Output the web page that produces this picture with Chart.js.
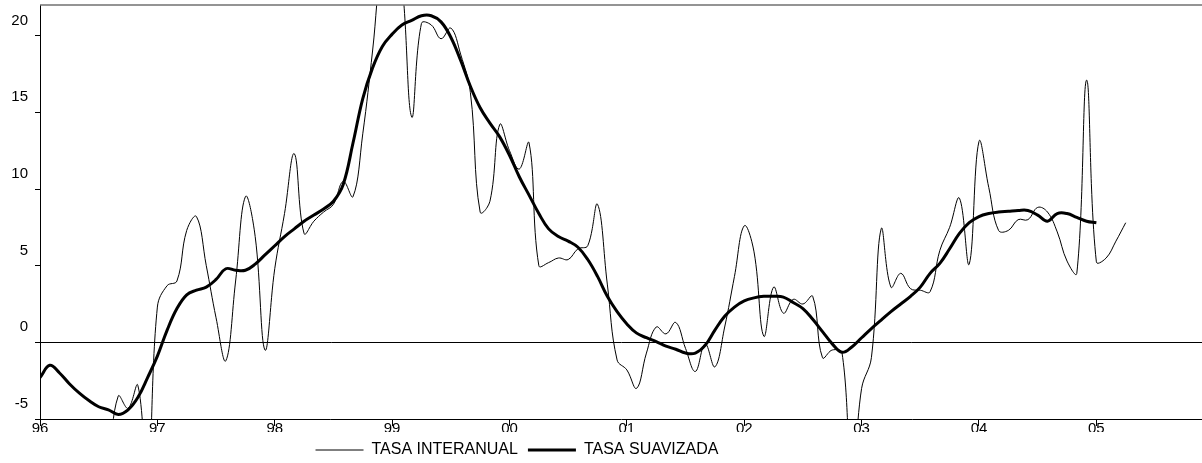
<!DOCTYPE html>
<html>
<head>
<meta charset="utf-8">
<script src="https://cdn.jsdelivr.net/npm/chart.js@4/dist/chart.umd.min.js"></script>
<style>
  html, body { margin: 0; padding: 0; background: #fff; overflow: hidden; }
  #contenedor { width: 1202px; height: 468px; }
</style>
</head>
<body>
<div id="contenedor"><canvas id="grafico"></canvas></div>
<script>
// Eje X en meses contados desde enero de 1996 (mes 0)
const etiquetasAnio = ['96', '97', '98', '99', '00', '01', '02', '03', '04', '05'];
const mesesAnio = [0, 12, 24, 36, 48, 60, 72, 84, 96, 108];
const ticksY = [-5, 0, 5, 10, 15, 20];

// Tasa interanual, empieza en agosto de 1996 (mes 7)
const inicioInteranual = 7;
const tasaInteranual = [
  -8.0, -3.5, -4.3, -2.8, -9.0,
  2.3, 3.7, 4.0, 7.3, 8.2, 5.0, 1.6, -1.2, 4.0, 9.5, 6.9, -0.5,
  4.8, 8.4, 12.3, 7.1, 7.9, 8.5, 9.0, 10.5, 9.5, 13.6, 19.0, 25.0,
  26.5, 23.5, 14.7, 20.8, 20.7, 19.8, 20.5, 18.8, 16.3, 8.5, 9.2, 14.2,
  12.5, 11.3, 13.0, 5.0, 5.2, 5.5, 5.4, 6.1, 6.3, 9.0, 3.8, -1.15,
  -1.8, -3.0, -0.7, 1.0, 0.55, 1.3, -0.4, -1.9, -0.1, -1.6, 1.0, 4.3,
  7.6, 5.9, 0.4, 3.6, 1.9, 2.8, 2.5, 3.0, -1.0, -0.5, -0.7, -9.0,
  -3.0, -1.0, 7.4, 3.6, 4.5, 3.5, 3.4, 3.3, 6.0, 7.5, 9.4, 5.1,
  13.1, 10.1, 7.3, 7.3, 8.0, 8.0, 8.8, 8.5, 7.2, 5.3, 4.5, 17.1,
  5.25, 5.5, 6.6, 7.8
];

// Tasa suavizada, desde enero de 1996
const inicioSuavizada = 0;
const tasaSuavizada = [
  -2.3, -1.5, -2.0, -2.7, -3.3, -3.8, -4.2, -4.4, -4.7, -4.4, -3.6, -2.3,
  -0.9, 0.8, 2.2, 3.1, 3.4, 3.6, 4.1, 4.8, 4.7, 4.7, 5.1, 5.7,
  6.3, 6.9, 7.4, 7.9, 8.3, 8.7, 9.2, 10.3, 13.0, 15.9, 17.9, 19.3,
  20.1, 20.7, 21.0, 21.3, 21.3, 20.9, 19.9, 18.4, 16.7, 15.3, 14.3, 13.4,
  12.2, 10.8, 9.6, 8.4, 7.4, 6.9, 6.6, 6.2, 5.4, 4.3, 3.0, 2.0,
  1.2, 0.6, 0.3, 0.05, -0.25, -0.45, -0.7, -0.7, -0.2, 0.8, 1.7, 2.3,
  2.7, 2.9, 3.0, 3.0, 2.95, 2.6, 2.2, 1.5, 0.7, -0.1, -0.65, -0.3,
  0.3, 0.9, 1.45, 2.0, 2.5, 3.0, 3.6, 4.5, 5.15, 6.1, 7.1, 7.8,
  8.2, 8.4, 8.5, 8.55, 8.6, 8.6, 8.3, 7.9, 8.4, 8.4, 8.15, 7.9,
  7.8
];

const aPuntos = (serie, inicio) => serie.map((v, i) => ({ x: inicio + i, y: v }));

const fuente = { family: '"Liberation Sans", Arial, sans-serif', size: 15 };
const desplazLeyenda = -84;

// Línea gris del borde superior y leyenda corrida a la izquierda
const bordeSuperior = {
  id: 'bordeSuperior',
  afterLayout(chart) {
    const lg = chart.legend;
    lg.left += desplazLeyenda;
    lg.right += desplazLeyenda;
  },
  afterDraw(chart) {
    const { ctx, chartArea: a } = chart;
    ctx.save();
    ctx.strokeStyle = '#707070';
    ctx.lineWidth = 1.5;
    ctx.beginPath();
    ctx.moveTo(a.left, a.top);
    ctx.lineTo(a.right, a.top);
    ctx.stroke();
    ctx.restore();
  }
};

new Chart(document.getElementById('grafico'), {
  type: 'line',
  data: {
    datasets: [
      {
        label: 'TASA INTERANUAL',
        data: aPuntos(tasaInteranual, inicioInteranual),
        borderColor: '#000',
        borderWidth: 1,
        tension: 0.4,
        pointRadius: 0
      },
      {
        label: 'TASA SUAVIZADA',
        data: aPuntos(tasaSuavizada, inicioSuavizada),
        borderColor: '#000',
        borderWidth: 3,
        tension: 0.4,
        pointRadius: 0
      }
    ]
  },
  options: {
    responsive: true,
    maintainAspectRatio: false,
    devicePixelRatio: 1,
    animation: false,
    events: [],
    layout: { padding: { top: 5, left: 0, right: 0, bottom: 0 } },
    elements: { line: { capBezierPoints: false } },
    scales: {
      x: {
        type: 'linear',
        min: 0,
        max: 118.8,
        afterBuildTicks: s => { s.ticks = mesesAnio.map(v => ({ value: v })); },
        afterFit: s => { s.height = 13; s.paddingLeft = 0; s.paddingRight = 0; },
        ticks: {
          callback: (v, i) => etiquetasAnio[i],
          font: fuente,
          color: '#000',
          padding: -6,
          maxRotation: 0,
          autoSkip: false
        },
        grid: { drawOnChartArea: false, tickLength: 7, tickColor: '#000' },
        border: { color: '#000', width: 1 }
      },
      y: {
        min: -5,
        max: 22,
        afterBuildTicks: s => { s.ticks = ticksY.map(v => ({ value: v })); },
        afterFit: s => { s.width = 40; s.paddingTop = 0; s.paddingBottom = 0; },
        ticks: { font: fuente, color: '#000', padding: 7, labelOffset: -15 },
        grid: {
          color: c => (c.tick && c.tick.value === 0 ? '#000' : 'rgba(0,0,0,0)'),
          tickColor: '#000',
          tickLength: 5,
          lineWidth: 1
        },
        border: { color: '#000', width: 1 }
      }
    },
    plugins: {
      tooltip: { enabled: false },
      legend: {
        position: 'bottom',
        labels: {
          usePointStyle: true,
          pointStyle: 'line',
          pointStyleWidth: 48,
          color: '#000',
          font: { family: fuente.family, size: 16 },
          padding: 10
        }
      }
    }
  },
  plugins: [bordeSuperior]
});
</script>
</body>
</html>
